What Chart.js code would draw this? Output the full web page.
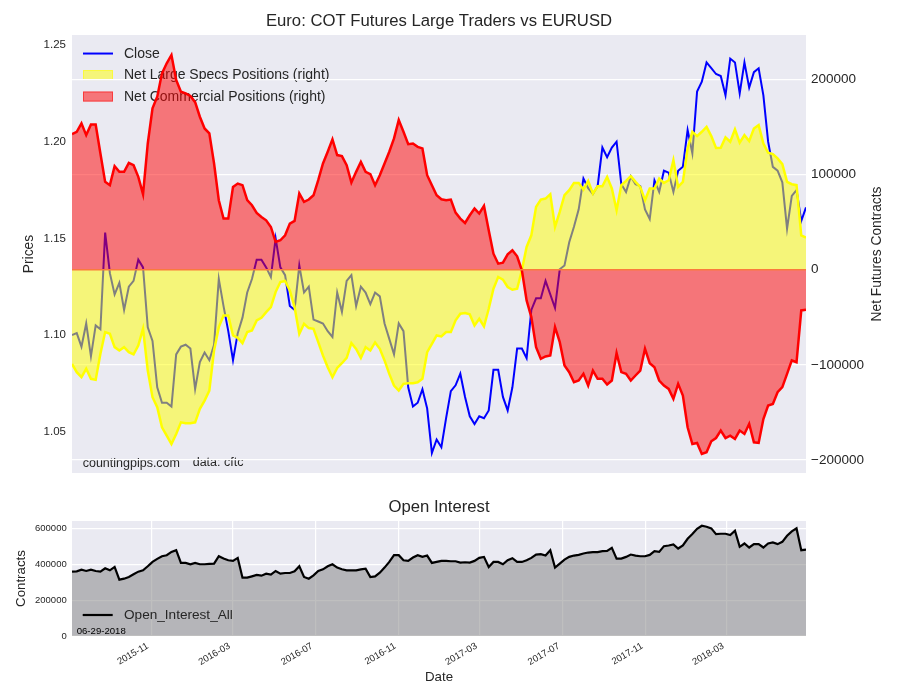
<!DOCTYPE html>
<html>
<head>
<meta charset="utf-8">
<script src="https://cdn.jsdelivr.net/npm/chart.js@4/dist/chart.umd.min.js"></script>
<style>
html, body { margin: 0; padding: 0; background: #ffffff; }
#wrap { position: relative; width: 900px; height: 700px; background: #ffffff; }
#top { position: absolute; left: 0; top: 0; }
#bottom { position: absolute; left: 0; top: 490px; }
</style>
</head>
<body>
<div id="wrap">
  <canvas id="top" width="900" height="490"></canvas>
  <canvas id="bottom" width="900" height="210"></canvas>
</div>
<script>
// ---------------- DATA ----------------
const dates = [
  '2015-07-07','2015-07-14','2015-07-21','2015-07-28','2015-08-04','2015-08-11','2015-08-18','2015-08-25',
  '2015-09-01','2015-09-08','2015-09-15','2015-09-22','2015-09-29','2015-10-06','2015-10-13','2015-10-20',
  '2015-10-27','2015-11-03','2015-11-10','2015-11-17','2015-11-24','2015-12-01','2015-12-08','2015-12-15',
  '2015-12-22','2015-12-29',
  '2016-01-05','2016-01-12','2016-01-19','2016-01-26','2016-02-02','2016-02-09','2016-02-16','2016-02-23',
  '2016-03-01','2016-03-08','2016-03-15','2016-03-22','2016-03-29','2016-04-05','2016-04-12','2016-04-19',
  '2016-04-26','2016-05-03','2016-05-10','2016-05-17','2016-05-24','2016-05-31','2016-06-07','2016-06-14',
  '2016-06-21','2016-06-28','2016-07-05','2016-07-12','2016-07-19','2016-07-26','2016-08-02','2016-08-09',
  '2016-08-16','2016-08-23','2016-08-30','2016-09-06','2016-09-13','2016-09-20','2016-09-27','2016-10-04',
  '2016-10-11','2016-10-18','2016-10-25','2016-11-01','2016-11-08','2016-11-15','2016-11-22','2016-11-29',
  '2016-12-06','2016-12-13','2016-12-20','2016-12-27',
  '2017-01-03','2017-01-10','2017-01-17','2017-01-24','2017-01-31','2017-02-07','2017-02-14','2017-02-21',
  '2017-02-28','2017-03-07','2017-03-14','2017-03-21','2017-03-28','2017-04-04','2017-04-11','2017-04-18',
  '2017-04-25','2017-05-02','2017-05-09','2017-05-16','2017-05-23','2017-05-30','2017-06-06','2017-06-13',
  '2017-06-20','2017-06-27','2017-07-04','2017-07-11','2017-07-18','2017-07-25','2017-08-01','2017-08-08',
  '2017-08-15','2017-08-22','2017-08-29','2017-09-05','2017-09-12','2017-09-19','2017-09-26','2017-10-03',
  '2017-10-10','2017-10-17','2017-10-24','2017-10-31','2017-11-07','2017-11-14','2017-11-21','2017-11-28',
  '2017-12-05','2017-12-12','2017-12-19','2017-12-26',
  '2018-01-02','2018-01-09','2018-01-16','2018-01-23','2018-01-30','2018-02-06','2018-02-13','2018-02-20',
  '2018-02-27','2018-03-06','2018-03-13','2018-03-20','2018-03-27','2018-04-03','2018-04-10','2018-04-17',
  '2018-04-24','2018-05-01','2018-05-08','2018-05-15','2018-05-22','2018-05-29','2018-06-05','2018-06-12',
  '2018-06-19','2018-06-26'
];

const closePrice = [
  1.100,1.101,1.094,1.106,1.089,1.105,1.103,1.153,1.132,1.121,1.127,1.113,1.125,1.128,1.139,1.135,
  1.104,1.097,1.073,1.065,1.065,1.063,1.090,1.094,1.095,1.093,1.072,1.086,1.091,1.087,1.095,1.129,
  1.115,1.102,1.087,1.101,1.109,1.122,1.129,1.139,1.139,1.135,1.130,1.150,1.135,1.131,1.115,1.113,
  1.136,1.122,1.125,1.108,1.107,1.106,1.102,1.099,1.122,1.112,1.128,1.131,1.115,1.125,1.122,1.116,
  1.122,1.120,1.106,1.098,1.090,1.106,1.102,1.073,1.063,1.065,1.072,1.062,1.039,1.046,1.042,1.057,
  1.071,1.074,1.080,1.068,1.058,1.054,1.058,1.057,1.061,1.082,1.082,1.068,1.061,1.073,1.093,1.093,
  1.088,1.113,1.119,1.119,1.128,1.121,1.114,1.134,1.136,1.148,1.156,1.165,1.181,1.176,1.173,1.177,
  1.197,1.192,1.197,1.200,1.178,1.174,1.182,1.178,1.177,1.165,1.160,1.180,1.174,1.185,1.184,1.174,
  1.185,1.187,1.206,1.194,1.226,1.231,1.241,1.238,1.235,1.234,1.224,1.243,1.241,1.225,1.241,1.228,
  1.236,1.238,1.224,1.200,1.187,1.185,1.179,1.155,1.172,1.175,1.159,1.166
];

const netLargeSpecs = [
  -99000,-107700,-113000,-104200,-114700,-115800,-88400,-65600,-67400,-81400,-84900,-81400,-86700,-89100,-79600,-62100,
  -106000,-134000,-144600,-165600,-174400,-183200,-172600,-160400,-161400,-161400,-160400,-146300,-137600,-127000,-84900,-60400,
  -48100,-48100,-69100,-71600,-77200,-65600,-63900,-53300,-50500,-44600,-39300,-23500,-13000,-11900,-21800,-39300,
  -67400,-56800,-61400,-62100,-76100,-90200,-102500,-113000,-103200,-98300,-92600,-77200,-83200,-92600,-81400,-84900,
  -76500,-83200,-95400,-109500,-121800,-127000,-120000,-119300,-119300,-118300,-114700,-86700,-77900,-69100,-70200,-65600,
  -65600,-53300,-46300,-45600,-47000,-58600,-51600,-59700,-41100,-20000,-7700,-10500,-18200,-21100,-20000,-700,
  23900,36100,66000,73700,74700,79300,44900,60700,78200,83500,91200,91200,84200,93300,80000,87700,
  87700,97500,85300,62500,88800,93300,98300,92300,87000,73000,85300,85300,95800,91200,94000,115100,
  87000,92300,127400,144900,140400,144900,150000,140400,127800,128100,139000,134400,147400,133400,141400,135100,
  148400,151900,132600,122800,121400,116900,110900,92300,89800,88800,36100,33700
];

const netCommercial = [
  142500,144900,153700,141400,152600,152600,122000,92300,88800,108800,102800,102800,112300,109800,97500,79300,
  132600,169500,181800,206300,216900,225600,199300,187000,185300,182500,176000,160700,148400,143200,111600,73000,
  53700,53700,87000,90500,88800,73000,67700,59700,55400,51900,44900,29100,30900,36100,48400,51200,
  80000,71200,73700,78200,94000,111600,123900,136900,120400,119300,109800,91600,102800,113300,102800,100400,
  88800,99300,111600,123900,137900,157200,144900,131900,132600,129100,127400,99300,88800,78200,74000,73000,
  73700,60000,53700,49100,57200,64200,59000,67000,41400,16800,6300,7400,16100,20400,14000,-700,
  -32300,-49800,-81400,-93700,-91200,-90200,-60400,-76200,-100700,-107700,-118300,-116500,-109500,-121800,-106000,-114700,
  -114700,-120700,-116500,-87700,-107700,-109500,-116500,-111200,-106000,-83200,-98300,-102500,-116500,-121800,-125300,-135800,
  -120000,-132300,-165600,-183200,-182100,-193700,-191900,-180400,-176900,-169100,-176900,-174400,-177900,-169100,-172600,-162100,
  -181400,-182100,-156900,-142800,-141100,-128800,-123500,-109500,-95400,-97200,-42800,-42100
];

const openInterest = [
  358800,360700,370000,362600,370000,362600,358800,377500,366300,385000,314000,319600,329000,343900,358800,366300,
  388800,413000,429900,444800,450400,469100,478500,407400,407400,400000,407400,400000,400000,401800,403700,444800,
  431700,422400,418700,435500,325200,325200,332700,340200,336400,347600,342000,362600,347600,351400,351400,360700,
  388800,329000,319600,338300,362600,371900,388800,400000,381300,371900,366300,366300,366300,371900,375700,329000,
  332700,353200,381300,413000,450400,450400,422400,418700,437300,450400,441100,448600,407400,413000,418700,418700,
  416800,416800,409300,411200,409300,418700,435500,441100,385000,413000,413000,400000,422400,433600,413000,413000,
  422400,435500,454200,456000,448600,478500,381300,403700,426100,441100,448600,452300,459800,465400,467300,467300,
  472900,474700,491500,431700,431700,441100,454200,448600,444800,444800,452300,472900,469100,500900,504600,510200,
  487800,504600,542000,568200,598100,614900,609300,600000,568200,570000,570000,562600,586900,497200,515800,493400,
  512100,512100,493400,515800,521500,512100,525200,558800,583100,600000,478500,482200
];

const monthTicks = ['2015-11-01','2016-03-01','2016-07-01','2016-11-01','2017-03-01','2017-07-01','2017-11-01','2018-03-01'];
const monthLabels = ['2015-11','2016-03','2016-07','2016-11','2017-03','2017-07','2017-11','2018-03'];
const priceTicks = [1.05, 1.10, 1.15, 1.20, 1.25];
const netTicks = [-200000, -100000, 0, 100000, 200000];
const oiTicks = [0, 200000, 400000, 600000];

// ---------------- HELPERS ----------------
const FONT = '"Liberation Sans", Arial, "DejaVu Sans", sans-serif';
const TEXT = '#262626';
const PLOT_BG = '#EAEAF2';

const dayNum = s => { const p = s.split('-').map(Number); return Date.UTC(p[0], p[1] - 1, p[2]) / 86400000; };
const xs = dates.map(dayNum);
const pts = arr => arr.map((v, i) => ({ x: xs[i], y: v }));
const xMin = xs[0], xMax = xs[xs.length - 1];
const fmtNet = v => (v < 0 ? '\u2212' + Math.abs(v) : String(v));

function paintBg(chart) {
  const { ctx, chartArea: a } = chart;
  ctx.save();
  ctx.fillStyle = PLOT_BG;
  ctx.fillRect(a.left, a.top, a.right - a.left, a.bottom - a.top);
  ctx.restore();
}

// ---------------- TOP CHART ----------------
const topPlugin = {
  id: 'topDeco',
  beforeDraw(chart) {
    paintBg(chart);
    const { ctx, chartArea: a } = chart;
    const x0 = a.left + 11;
    const items = chart.data.datasets;
    ctx.save();
    ctx.font = '14px ' + FONT;
    ctx.textBaseline = 'middle';
    ctx.textAlign = 'left';
    items.forEach((ds, k) => {
      const y = a.top + 18.5 + k * 21.5;
      if (k === 0) {
        ctx.strokeStyle = ds.borderColor;
        ctx.lineWidth = 2;
        ctx.beginPath();
        ctx.moveTo(x0, y);
        ctx.lineTo(x0 + 30, y);
        ctx.stroke();
      } else {
        ctx.fillStyle = ds.backgroundColor;
        ctx.fillRect(x0, y - 5, 30, 10);
        ctx.strokeStyle = ds.backgroundColor;
        ctx.lineWidth = 1;
        ctx.strokeRect(x0 + 0.5, y - 4.5, 29, 9);
      }
      ctx.fillStyle = TEXT;
      ctx.fillText(ds.label, x0 + 41, y + 0.5);
    });
    ctx.font = '12.5px ' + FONT;
    ctx.fillText('countingpips.com', a.left + 10.7, a.bottom - 9);
    ctx.fillText('data: cftc', a.left + 120.7, a.bottom - 10);
    ctx.restore();
  },
  afterDatasetsDraw(chart) {
    const { ctx, chartArea: a } = chart;
    const y = chart.scales.yR.getPixelForValue(0);
    ctx.save();
    ctx.strokeStyle = '#FA7A3C';
    ctx.lineWidth = 1.5;
    ctx.beginPath();
    ctx.moveTo(a.left, y);
    ctx.lineTo(a.right, y);
    ctx.stroke();
    ctx.restore();
  },
  afterDraw(chart) {
    const { ctx, chartArea: a } = chart;
    ctx.save();
    ctx.translate(a.right + 70.7, (a.top + a.bottom) / 2);
    ctx.rotate(-Math.PI / 2);
    ctx.font = '13.8px ' + FONT;
    ctx.fillStyle = TEXT;
    ctx.textAlign = 'center';
    ctx.textBaseline = 'middle';
    ctx.fillText('Net Futures Contracts', 0, 0);
    ctx.restore();
  }
};

new Chart(document.getElementById('top'), {
  type: 'line',
  data: {
    datasets: [
      { label: 'Close', data: pts(closePrice), yAxisID: 'y', borderColor: '#0000FF', borderWidth: 2,
        pointRadius: 0, fill: false, order: 3 },
      { label: 'Net Large Specs Positions (right)', data: pts(netLargeSpecs), yAxisID: 'yR',
        borderColor: '#FFFF00', backgroundColor: 'rgba(255,255,0,0.5)', borderWidth: 2.5,
        pointRadius: 0, fill: 'origin', order: 2 },
      { label: 'Net Commercial Positions (right)', data: pts(netCommercial), yAxisID: 'yR',
        borderColor: '#FF0000', backgroundColor: 'rgba(255,0,0,0.5)', borderWidth: 2.5,
        pointRadius: 0, fill: 'origin', order: 1 }
    ]
  },
  options: {
    responsive: false,
    animation: false,
    events: [],
    layout: { padding: { left: 0, right: 0, top: 0, bottom: 17 } },
    plugins: {
      legend: { display: false },
      tooltip: { enabled: false },
      title: {
        display: true, fullSize: false,
        text: 'Euro: COT Futures Large Traders vs EURUSD',
        color: TEXT, font: { family: FONT, size: 16.7, weight: 'normal', lineHeight: 1.2 },
        padding: { top: 11, bottom: 4 }
      }
    },
    scales: {
      x: { type: 'linear', min: xMin, max: xMax, display: false },
      y: {
        type: 'linear', position: 'left', min: 1.02865, max: 1.25517,
        afterBuildTicks: s => { s.ticks = priceTicks.map(v => ({ value: v })); },
        afterFit: s => { s.width = 72; },
        grid: { display: false, drawTicks: false },
        border: { display: false },
        ticks: { padding: 6, autoSkip: false, color: TEXT, font: { family: FONT, size: 11.5 },
                 callback: v => Number(v).toFixed(2) },
        title: { display: true, text: 'Prices', color: TEXT,
                 font: { family: FONT, size: 13.8, lineHeight: 1.2 }, padding: { top: 20.5, bottom: 0 } }
      },
      yR: {
        type: 'linear', position: 'right', min: -213660, max: 246550,
        afterBuildTicks: s => { s.ticks = netTicks.map(v => ({ value: v })); },
        afterFit: s => { s.width = 94; },
        grid: { color: '#FFFFFF', lineWidth: 1.2, drawTicks: false },
        border: { display: false },
        ticks: { padding: 5, autoSkip: false, color: TEXT, font: { family: FONT, size: 13.5 },
                 callback: v => fmtNet(v) }
      }
    }
  },
  plugins: [topPlugin]
});

// ---------------- BOTTOM CHART ----------------
const bottomPlugin = {
  id: 'bottomDeco',
  beforeDraw(chart) { paintBg(chart); },
  afterDatasetsDraw(chart) {
    const { ctx, chartArea: a } = chart;
    const ds = chart.data.datasets[0];
    const x0 = a.left + 10.7;
    const y = a.bottom - 21;
    ctx.save();
    ctx.strokeStyle = ds.borderColor;
    ctx.lineWidth = 2.2;
    ctx.beginPath();
    ctx.moveTo(x0, y);
    ctx.lineTo(x0 + 30, y);
    ctx.stroke();
    ctx.fillStyle = TEXT;
    ctx.font = '13.6px ' + FONT;
    ctx.textBaseline = 'middle';
    ctx.textAlign = 'left';
    ctx.fillText(ds.label, x0 + 41.3, y + 0.5);
    ctx.fillStyle = '#000000';
    ctx.font = '9.6px ' + FONT;
    ctx.fillText('06-29-2018', a.left + 4.7, a.bottom - 5);
    ctx.restore();
  }
};

new Chart(document.getElementById('bottom'), {
  type: 'line',
  data: {
    datasets: [
      { label: 'Open_Interest_All', data: pts(openInterest), borderColor: '#000000', borderWidth: 2.2,
        backgroundColor: 'rgba(128,128,128,0.5)', fill: 'origin', pointRadius: 0 }
    ]
  },
  options: {
    responsive: false,
    animation: false,
    events: [],
    layout: { padding: { left: 0, right: 94, top: 0, bottom: 0 } },
    plugins: {
      legend: { display: false },
      tooltip: { enabled: false },
      title: {
        display: true, fullSize: false, text: 'Open Interest', color: TEXT,
        font: { family: FONT, size: 16.7, weight: 'normal', lineHeight: 1.2 },
        padding: { top: 7, bottom: 4 }
      }
    },
    scales: {
      x: {
        type: 'linear', position: 'bottom', min: xMin, max: xMax,
        afterBuildTicks: s => { s.ticks = monthTicks.map(d => ({ value: dayNum(d) })); },
        afterFit: s => { s.height = 64; },
        grid: { color: '#FFFFFF', lineWidth: 1.2, drawTicks: false },
        border: { display: false },
        ticks: { autoSkip: false, minRotation: 30, maxRotation: 30, padding: 4.5, labelOffset: -3.5, color: TEXT,
                 font: { family: FONT, size: 9.5 }, callback: (v, i) => monthLabels[i] },
        title: { display: true, text: 'Date', color: TEXT,
                 font: { family: FONT, size: 13.3, lineHeight: 1.2 }, padding: { top: 0, bottom: 15 } }
      },
      y: {
        type: 'linear', position: 'left', min: 0, max: 641000,
        afterBuildTicks: s => { s.ticks = oiTicks.map(v => ({ value: v })); },
        afterFit: s => { s.width = 72; },
        grid: { color: '#FFFFFF', lineWidth: 1.2, drawTicks: false },
        border: { display: false },
        ticks: { padding: 5.3, autoSkip: false, color: TEXT, font: { family: FONT, size: 9.5 },
                 callback: v => String(v) },
        title: { display: true, text: 'Contracts', color: TEXT,
                 font: { family: FONT, size: 13.3, lineHeight: 1.2 }, padding: { top: 13, bottom: 0 } }
      }
    }
  },
  plugins: [bottomPlugin]
});
</script>
</body>
</html>
